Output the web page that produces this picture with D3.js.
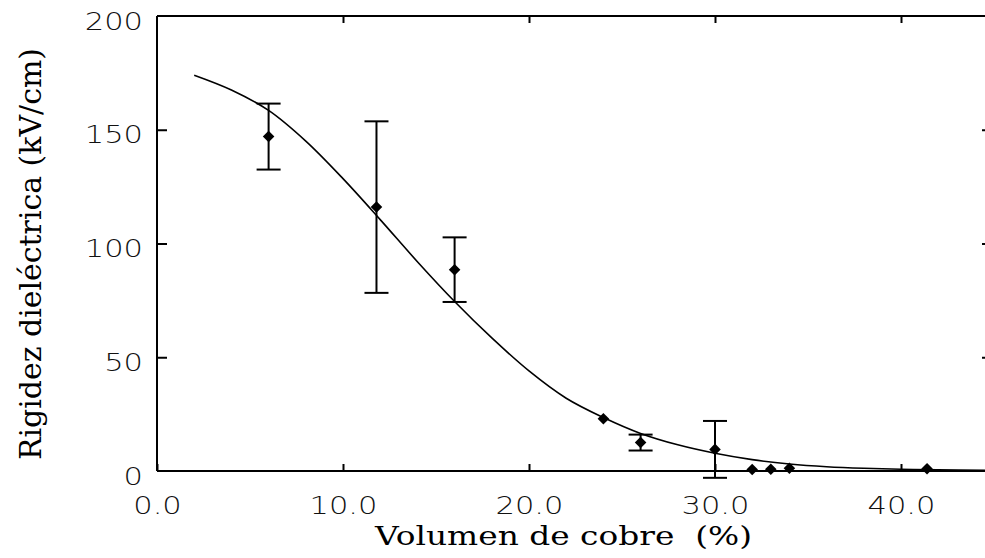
<!DOCTYPE html>
<html>
<head>
<meta charset="utf-8">
<script src="https://cdn.jsdelivr.net/npm/d3@7"></script>
<style>
  html, body { margin: 0; padding: 0; background: #fff; }
  svg { display: block; }
</style>
</head>
<body>
<svg id="chart" width="985" height="558"></svg>
<script>
// ---- data ----
const pointX   = [6, 11.8, 16, 24, 26, 30, 32, 33, 34, 41.4];
const pointY   = [147, 116, 88.5, 23, 12.5, 9.5, 0.7, 0.8, 1.2, 1.0];
const pointErr = [14.5, 37.7, 14.2, 0, 3.5, 12.5, 0, 0, 0, 0];

const fitX = [2, 4, 6, 8, 10, 12, 14, 16, 18, 20, 22, 24, 26, 28, 30, 32, 34, 36, 38, 40, 42, 44.6];
const fitY = [174, 167.5, 158.5, 145, 128.5, 110.5, 92, 74.5, 58.5, 44, 32, 23.5, 16.5, 11.5, 7.8, 5, 3.1, 1.9, 1.2, 0.8, 0.5, 0.3];

const xTicks = [0, 10, 20, 30, 40];
const yTicks = [0, 50, 100, 150, 200];
const xTitle = "Volumen de cobre  (%)";
const yTitle = "Rigidez dieléctrica (kV/cm)";

// ---- layout ----
const svg = d3.select("#chart");
const x = d3.scaleLinear().domain([0, 40]).range([157, 901]);
const y = d3.scaleLinear().domain([0, 200]).range([471, 16]);
const xRight = 987;
const stretch = 1.22;
const tickFont = "'DejaVu Sans', sans-serif";

// frame lines
const frame = svg.append("g").attr("stroke", "#000").attr("stroke-width", 2).attr("fill", "none");
frame.append("line").attr("x1", x(0)).attr("x2", x(0)).attr("y1", y(200)).attr("y2", y(0));
frame.append("line").attr("x1", x(0)).attr("x2", 985).attr("y1", y(0)).attr("y2", y(0));
frame.append("line").attr("x1", x(0)).attr("x2", 985).attr("y1", y(200)).attr("y2", y(200));

// bottom axis
const gB = svg.append("g").attr("transform", `translate(0,${y(0)})`)
  .call(d3.axisBottom(x).tickValues(xTicks).tickSizeInner(-7).tickSizeOuter(0).tickPadding(0).tickFormat(d3.format(".1f")));
gB.select(".domain").remove();
gB.selectAll(".tick line").attr("stroke", "#000").attr("stroke-width", 2);
gB.selectAll(".tick text")
  .attr("y", 43).attr("dy", null)
  .attr("transform", `scale(${stretch},1)`)
  .attr("font-family", tickFont).attr("font-size", 25).attr("font-weight", 200)
  .attr("fill", "#111").attr("text-anchor", "middle");

// top axis (ticks only)
const gT = svg.append("g").attr("transform", `translate(0,${y(200)})`)
  .call(d3.axisTop(x).tickValues(xTicks.slice(1)).tickSizeInner(-7).tickSizeOuter(0).tickFormat(""));
gT.select(".domain").remove();
gT.selectAll(".tick line").attr("stroke", "#000").attr("stroke-width", 2);

// left axis
const gL = svg.append("g").attr("transform", `translate(${x(0)},0)`)
  .call(d3.axisLeft(y).tickValues(yTicks).tickSizeInner(-10).tickSizeOuter(0).tickPadding(0).tickFormat(d3.format("d")));
gL.select(".domain").remove();
gL.selectAll(".tick line").attr("stroke", "#000").attr("stroke-width", 2)
  .attr("display", d => (d === 0 || d === 200) ? "none" : null);
gL.selectAll(".tick text")
  .attr("x", -14 / stretch).attr("y", 13).attr("dy", null)
  .attr("transform", `scale(${stretch},1)`)
  .attr("font-family", tickFont).attr("font-size", 25).attr("font-weight", 200)
  .attr("fill", "#111").attr("text-anchor", "end");

// right axis (ticks only, frame just off-canvas)
const gR = svg.append("g").attr("transform", `translate(${xRight},0)`)
  .call(d3.axisRight(y).tickValues([50, 100, 150]).tickSizeInner(-5).tickSizeOuter(0).tickFormat(""));
gR.select(".domain").remove();
gR.selectAll(".tick line").attr("stroke", "#000").attr("stroke-width", 2);

// fitted curve
const fit = fitX.map((v, i) => [v, fitY[i]]);
svg.append("path")
  .datum(fit)
  .attr("fill", "none").attr("stroke", "#000").attr("stroke-width", 1.6)
  .attr("d", d3.line().x(d => x(d[0])).y(d => y(d[1])).curve(d3.curveCatmullRom));

// error bars
const pts = pointX.map((v, i) => ({ x: v, y: pointY[i], e: pointErr[i] }));
const eb = svg.append("g").attr("stroke", "#000").attr("stroke-width", 2);
pts.filter(d => d.e > 0).forEach(d => {
  eb.append("line").attr("x1", x(d.x)).attr("x2", x(d.x)).attr("y1", y(d.y + d.e)).attr("y2", y(d.y - d.e));
  eb.append("line").attr("x1", x(d.x) - 12).attr("x2", x(d.x) + 12).attr("y1", y(d.y + d.e)).attr("y2", y(d.y + d.e));
  eb.append("line").attr("x1", x(d.x) - 12).attr("x2", x(d.x) + 12).attr("y1", y(d.y - d.e)).attr("y2", y(d.y - d.e));
});

// markers
svg.append("g").selectAll("path").data(pts).join("path")
  .attr("transform", d => `translate(${x(d.x)},${y(d.y)})`)
  .attr("d", d3.symbol(d3.symbolDiamond2, 85))
  .attr("fill", "#000");

// axis titles
svg.append("text")
  .attr("x", 375).attr("y", 545)
  .attr("font-family", "'DejaVu Serif', serif").attr("font-size", 26)
  .attr("textLength", 377).attr("lengthAdjust", "spacingAndGlyphs")
  .attr("fill", "#000")
  .style("white-space", "pre")
  .text(xTitle);

svg.append("text")
  .attr("transform", "translate(41,460) rotate(-90)")
  .attr("x", 0).attr("y", 0)
  .attr("font-family", "'DejaVu Serif', serif").attr("font-size", 30)
  .attr("textLength", 412).attr("lengthAdjust", "spacingAndGlyphs")
  .attr("fill", "#000")
  .text(yTitle);
</script>
</body>
</html>
